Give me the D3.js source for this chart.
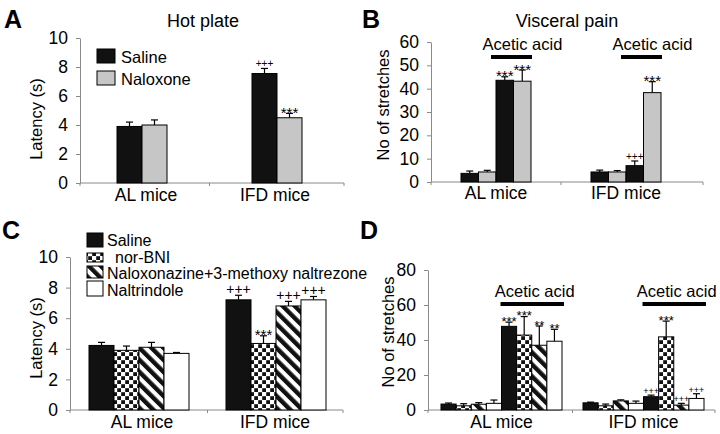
<!DOCTYPE html>
<html><head><meta charset="utf-8">
<script src="https://cdn.jsdelivr.net/npm/d3@7"></script>
<style>body{margin:0;background:#fff}svg{display:block}text{font-family:"Liberation Sans",Arial,sans-serif;fill:#000}</style>
</head><body><svg id="c" width="720" height="434"></svg>
<script>
const groups = ["AL mice", "IFD mice"];
// Panel A – Hot plate
const aSeries = ["Saline", "Naloxone"];
const aValues = [[3.9, 4.0], [7.55, 4.5]];
const aErrors = [[0.3, 0.35], [0.35, 0.3]];
const aMarks = [["", ""], ["+++", "***"]];
const aTicks = [0, 2, 4, 6, 8, 10];
// Panel B – Visceral pain (saline, naloxone, saline+acid, naloxone+acid)
const bValues = [[3.7, 4.3, 43.6, 43.2], [4.3, 4.3, 7.0, 38.3]];
const bErrors = [[1.0, 0.7, 1.5, 4.8], [0.8, 0.6, 2.0, 4.7]];
const bMarks = [["", "", "***", "***"], ["", "", "+++", "***"]];
const bTicks = [0, 10, 20, 30, 40, 50, 60];
// Panel C – Hot plate with selective antagonists
const cSeries = ["Saline", "nor-BNI", "Naloxonazine+3-methoxy naltrezone", "Naltrindole"];
const cValues = [[4.22, 3.9, 4.1, 3.7], [7.2, 4.35, 6.8, 7.2]];
const cErrors = [[0.2, 0.28, 0.32, 0.06], [0.3, 0.5, 0.3, 0.22]];
const cMarks = [["", "", "", ""], ["+++", "***", "+++", "+++"]];
const cTicks = [0, 2, 4, 6, 8, 10];
// Panel D – Visceral pain with selective antagonists (4 without acid, 4 with acid)
const dValues = [[3.4, 2.4, 3.3, 3.8, 47.8, 42.8, 37.0, 39.3], [4.1, 2.4, 5.2, 3.8, 7.6, 41.8, 2.8, 6.6]];
const dErrors = [[0.6, 1.2, 0.9, 1.9, 2.4, 10.6, 11.0, 6.8], [0.4, 1.0, 0.6, 1.3, 0.9, 9.0, 1.0, 2.7]];
const dMarks = [["", "", "", "", "***", "***", "**", "**"], ["", "", "", "", "+++", "***", "+++", "+++"]];
const dTicks = [0, 20, 40, 60, 80];
const acidLabel = "Acetic acid";

const svg = d3.select("#c");
const FONT = '"Liberation Sans",Arial,sans-serif';
const AX = "#8a8a8a";

// patterns
const defs = svg.append("defs");
const chk = defs.append("pattern").attr("id", "checker").attr("patternUnits", "userSpaceOnUse").attr("width", 8).attr("height", 8);
chk.append("rect").attr("width", 8).attr("height", 8).attr("fill", "#fff");
chk.append("rect").attr("x", 0.2).attr("y", 0.2).attr("width", 3.8).attr("height", 3.8).attr("fill", "#111");
chk.append("rect").attr("x", 4.2).attr("y", 4.2).attr("width", 3.8).attr("height", 3.8).attr("fill", "#111");
const dg = defs.append("pattern").attr("id", "diag").attr("patternUnits", "userSpaceOnUse").attr("width", 8.5).attr("height", 8.5).attr("patternTransform", "rotate(-45)");
dg.append("rect").attr("width", 8.5).attr("height", 8.5).attr("fill", "#fff");
dg.append("rect").attr("width", 4.4).attr("height", 8.5).attr("fill", "#111");

function bandFor(domain, r0, r1, start, bw, step) {
  const n = domain.length, p = 1 - bw / step;
  const o = ((r1 - r0) - (n - p) * step) / (2 * step);
  const align = (start - r0) / (2 * o * step);
  return d3.scaleBand().domain(domain).range([r0, r1]).paddingInner(p).paddingOuter(o).align(align);
}

function panel(cfg) {
  const g = svg.append("g");
  const x0 = bandFor(groups, cfg.xr[0], cfg.xr[1], cfg.start, cfg.bw, cfg.step);
  const nS = cfg.values[0].length;
  const x1 = d3.scaleBand().domain(d3.range(nS)).range([0, x0.bandwidth()]);
  const y = d3.scaleLinear().domain([0, cfg.ymax]).range(cfg.yr);

  // y axis
  const ya = g.append("g").attr("transform", `translate(${cfg.xr[0]},0)`)
    .call(d3.axisLeft(y).tickValues(cfg.ticks).tickSize(4).tickSizeOuter(0).tickPadding(8));
  ya.select(".domain").attr("stroke", AX);
  ya.selectAll(".tick line").attr("stroke", AX);
  ya.selectAll(".tick text").attr("font-family", FONT).attr("font-size", 17.5).attr("fill", "#000");

  // x axis line + small ticks at boundaries
  const xa = g.append("g");
  xa.append("line").attr("x1", cfg.xr[0]).attr("x2", cfg.xr[1]).attr("y1", y(0)).attr("y2", y(0)).attr("stroke", AX);
  const mid = (x0(groups[0]) + x0.bandwidth() + x0(groups[1])) / 2;
  [cfg.xr[0], mid, cfg.xr[1]].forEach(v => xa.append("line").attr("x1", v).attr("x2", v).attr("y1", y(0)).attr("y2", y(0) + 3).attr("stroke", AX));

  // bars
  groups.forEach((grp, gi) => {
    const gg = g.append("g").attr("transform", `translate(${x0(grp)},0)`);
    cfg.values[gi].forEach((v, si) => {
      const e = cfg.errors[gi][si];
      const bx = x1(si), bw = x1.bandwidth(), cx = bx + bw / 2;
      gg.append("line").attr("x1", cx).attr("x2", cx).attr("y1", y(v)).attr("y2", y(v + e)).attr("stroke", "#000").attr("stroke-width", 1.2);
      gg.append("line").attr("x1", cx - 3.5).attr("x2", cx + 3.5).attr("y1", y(v + e)).attr("y2", y(v + e)).attr("stroke", "#000").attr("stroke-width", 1.2);
      gg.append("rect").attr("x", bx).attr("y", y(v)).attr("width", bw).attr("height", y(0) - y(v))
        .attr("fill", cfg.fills[si]).attr("stroke", "#000").attr("stroke-width", 1);
      const m = cfg.marks[gi][si];
      if (m) {
        const star = m[0] === "*";
        const fs = star ? cfg.starSize : cfg.plusSize;
        gg.append("text").attr("x", cx).attr("y", y(v + e) + (star ? 0.3 * fs : -1))
          .attr("text-anchor", "middle").attr("font-size", fs).attr("fill", "#000").text(m);
      }
    });
    g.append("text").attr("x", x0(grp) + x0.bandwidth() / 2 + (cfg.catShift ? cfg.catShift[gi] : 0)).attr("y", cfg.catY)
      .attr("text-anchor", "middle").attr("font-size", 17.5).text(grp);
    if (cfg.acid) {
      const a0 = x0(grp) + x1(nS / 2), a1 = x0(grp) + x1(nS - 1) + x1.bandwidth();
      g.append("rect").attr("x", a0 + cfg.acid.l).attr("y", cfg.acid.barY).attr("width", a1 - a0 - cfg.acid.l + cfg.acid.r).attr("height", 4).attr("fill", "#000");
      g.append("text").attr("x", (a0 + a1) / 2 + cfg.acid.dx).attr("y", cfg.acid.textY).attr("text-anchor", "middle").attr("font-size", 16.5).text(acidLabel);
    }
  });

  g.append("text").attr("transform", `translate(${cfg.ylab[0]},${cfg.ylab[1]}) rotate(-90)`).attr("text-anchor", "middle").attr("font-size", 16.5).text(cfg.ylabel);
  g.append("text").attr("x", cfg.letter[0]).attr("y", cfg.letter[1]).attr("font-size", 25).attr("font-weight", "bold").text(cfg.letterText);
  if (cfg.title) g.append("text").attr("x", cfg.title[0]).attr("y", cfg.title[1]).attr("text-anchor", "middle").attr("font-size", 18).text(cfg.titleText);
  return g;
}

panel({ xr: [80, 344], start: 117, bw: 50, step: 135, yr: [183, 38], ymax: 10, ticks: aTicks,
  values: aValues, errors: aErrors, marks: aMarks, fills: ["#111", "#c6c6c6"], starSize: 15, plusSize: 10,
  catY: 201, catShift: [4, -2], ylabel: "Latency (s)", ylab: [42, 119], letter: [4, 28], letterText: "A",
  title: [203, 27], titleText: "Hot plate" });

panel({ xr: [431, 703], start: 461, bw: 70, step: 130, yr: [182, 42], ymax: 60, ticks: bTicks,
  values: bValues, errors: bErrors, marks: bMarks, fills: ["#111", "#c6c6c6", "#111", "#c6c6c6"], starSize: 15, plusSize: 10,
  catY: 199, ylabel: "No of stretches", ylab: [389, 105], letter: [362, 28], letterText: "B",
  title: [567, 27], titleText: "Visceral pain",
  acid: { l: -5, r: 1, barY: 55, textY: 50, dx: 9 } });

panel({ xr: [70, 343], start: 89, bw: 100, step: 137, yr: [410, 257], ymax: 10, ticks: cTicks,
  values: cValues, errors: cErrors, marks: cMarks, fills: ["#111", "url(#checker)", "url(#diag)", "#fff"], starSize: 15, plusSize: 14,
  catY: 428, catShift: [3, -1], ylabel: "Latency (s)", ylab: [42, 338], letter: [2, 239], letterText: "C" });

panel({ xr: [428, 715], start: 441, bw: 121, step: 142, yr: [410, 270], ymax: 80, ticks: dTicks,
  values: dValues, errors: dErrors, marks: dMarks,
  fills: ["#111", "url(#checker)", "url(#diag)", "#fff", "#111", "url(#checker)", "url(#diag)", "#fff"], starSize: 13, plusSize: 9,
  catY: 428, ylabel: "No of stretches", ylab: [394, 332], letter: [360, 239], letterText: "D",
  acid: { l: -1, r: 2, barY: 302, textY: 297, dx: 3 } });

// Legend A
const legA = svg.append("g");
const legAFill = ["#111", "#c6c6c6"];
const legAY = [49, 71];
aSeries.forEach((s, i) => {
  legA.append("rect").attr("x", 97).attr("y", legAY[i]).attr("width", 18).attr("height", 14).attr("fill", legAFill[i]).attr("stroke", "#000");
  legA.append("text").attr("x", 121).attr("y", legAY[i] + 14).attr("font-size", 16.5).text(s);
});
// Legend C
const legC = svg.append("g");
const legCFill = ["#111", "url(#checker)", "url(#diag)", "#fff"];
const legCBox = [[233, 14], [253, 9], [266, 12], [281, 15]];
const legCText = [[107, 246], [115, 263], [107, 279], [107, 296]];
cSeries.forEach((s, i) => {
  legC.append("rect").attr("x", 87).attr("y", legCBox[i][0]).attr("width", 16).attr("height", legCBox[i][1]).attr("fill", legCFill[i]).attr("stroke", "#000");
  legC.append("text").attr("x", legCText[i][0]).attr("y", legCText[i][1]).attr("font-size", 16).text(s);
});
</script></body></html>
